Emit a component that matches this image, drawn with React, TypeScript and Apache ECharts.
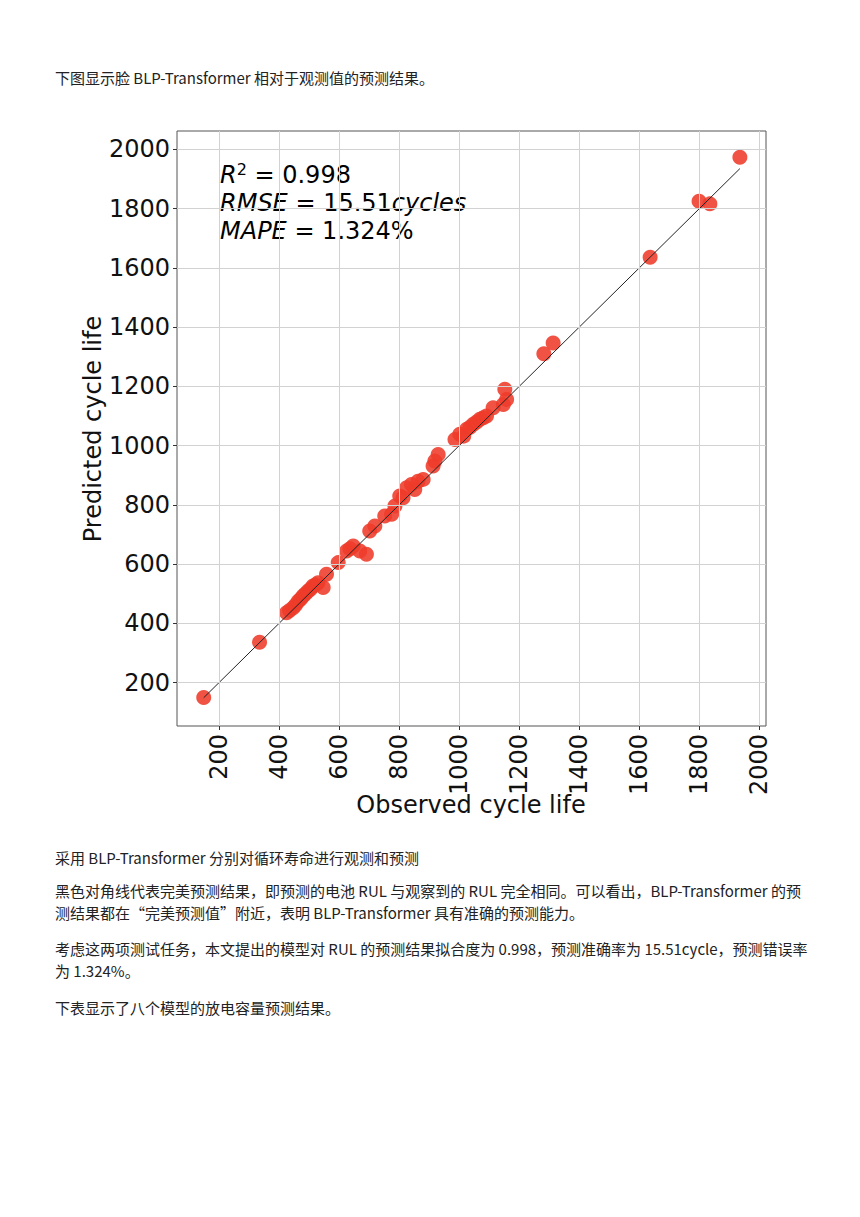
import React, { useEffect, useRef } from "react";
import * as echarts from "echarts";

// Observed vs predicted cycle life
const observed = [
  149, 335, 425, 435, 447, 455, 464, 472, 480, 488, 497, 505, 513, 522, 530, 547, 558,
  597, 625, 636, 647, 669, 691, 702, 719, 752, 775, 786, 802, 813, 825, 841, 852, 863,
  880, 913, 919, 930, 986, 1002, 1015, 1025, 1036, 1047, 1058, 1069, 1080, 1091, 1113,
  1147, 1152, 1158, 1282, 1313, 1636, 1799, 1835, 1935,
];
const predicted = [
  150, 336, 436, 443, 453, 462, 475, 482, 492, 500, 509, 516, 526, 530, 537, 521, 566,
  605, 644, 652, 661, 644, 633, 712, 729, 762, 768, 796, 830, 824, 858, 869, 852, 880,
  886, 931, 948, 970, 1021, 1038, 1032, 1055, 1062, 1072, 1080, 1089, 1094, 1100, 1128,
  1139, 1190, 1156, 1310, 1346, 1636, 1825, 1816, 1973,
];
const tickValues = [200, 400, 600, 800, 1000, 1200, 1400, 1600, 1800, 2000];
const xRange = [60, 2022];
const yRange = [53.5, 2062];

const xTitle = "Observed cycle life";
const yTitle = "Predicted cycle life";
const statR2 = "0.998";
const statRMSE = "15.51";
const statMAPE = "1.324%";

const introLine = "下图显示脸 BLP-Transformer 相对于观测值的预测结果。";
const bodyLines = [
  "采用 BLP-Transformer 分别对循环寿命进行观测和预测",
  "黑色对角线代表完美预测结果，即预测的电池 RUL 与观察到的 RUL 完全相同。可以看出，BLP-Transformer 的预",
  "测结果都在“完美预测值”附近，表明 BLP-Transformer 具有准确的预测能力。",
  "考虑这两项测试任务，本文提出的模型对 RUL 的预测结果拟合度为 0.998，预测准确率为 15.51cycle，预测错误率",
  "为 1.324%。",
  "下表显示了八个模型的放电容量预测结果。",
];
const bodyLineY = [857, 890, 912, 948, 970, 1007];

const PLOT_FONT = '"DejaVu Sans", sans-serif';
const BODY_FONT = '"Noto Sans CJK SC", "Noto Sans", sans-serif';

export default function App() {
  const ref = useRef<HTMLDivElement>(null);

  useEffect(() => {
    if (!ref.current) return;
    const chart = echarts.init(ref.current, null, { renderer: "svg" });

    const points = observed.map((o, i) => [o, predicted[i]]);
    const lo = Math.min(...observed);
    const hi = Math.max(...observed);

    const bodyText = (text: string, y: number) => ({
      type: "text",
      x: 55,
      y,
      style: {
        text,
        fill: "#222",
        font: `15px ${BODY_FONT}`,
        verticalAlign: "middle",
        align: "left",
      },
    });

    const statRich = {
      i: { fontFamily: PLOT_FONT, fontStyle: "italic", fontSize: 24, color: "#111" },
      n: { fontFamily: PLOT_FONT, fontSize: 24, color: "#111" },
      s: { fontFamily: PLOT_FONT, fontSize: 16, color: "#111", verticalAlign: "top" },
    };

    const plainLabel = (v: number) => String(v);

    const option: any = {
      animation: false,
      backgroundColor: "#fff",
      grid: {
        left: 177,
        top: 131,
        width: 589,
        height: 595,
        show: true,
        borderColor: "#555",
        borderWidth: 1,
        backgroundColor: "transparent",
      },
      xAxis: {
        type: "value",
        min: xRange[0],
        max: xRange[1],
        axisLine: { show: false },
        splitLine: { show: false },
        axisTick: {
          show: true,
          customValues: tickValues,
          length: 4,
          lineStyle: { color: "#333" },
        },
        axisLabel: {
          customValues: tickValues,
          formatter: plainLabel,
          rotate: 90,
          margin: 8,
          fontSize: 24,
          fontFamily: PLOT_FONT,
          color: "#111",
        },
      },
      yAxis: {
        type: "value",
        min: yRange[0],
        max: yRange[1],
        axisLine: { show: false },
        splitLine: { show: false },
        axisTick: {
          show: true,
          customValues: tickValues,
          length: 4,
          lineStyle: { color: "#333" },
        },
        axisLabel: {
          customValues: tickValues,
          formatter: plainLabel,
          margin: 7,
          fontSize: 24,
          fontFamily: PLOT_FONT,
          color: "#111",
        },
      },
      series: [
        {
          type: "line",
          data: [],
          z: 1,
          silent: true,
          markLine: {
            silent: true,
            symbol: ["none", "none"],
            label: { show: false },
            emphasis: { disabled: true },
            lineStyle: { color: "#d2d2d2", width: 1, type: "solid" },
            data: [
              ...tickValues.map((v) => ({ xAxis: v })),
              ...tickValues.map((v) => ({ yAxis: v })),
            ],
          },
        },
        {
          type: "scatter",
          data: points,
          z: 2,
          symbolSize: 15,
          itemStyle: { color: "#EE3B2A", opacity: 0.88 },
          emphasis: { disabled: true },
        },
        {
          type: "line",
          data: [
            [lo, lo],
            [hi, hi],
          ],
          z: 3,
          symbol: "none",
          lineStyle: { color: "#222", width: 1 },
          emphasis: { disabled: true },
        },
      ],
      graphic: [
        bodyText(introLine, 77),
        ...bodyLines.map((t, i) => bodyText(t, bodyLineY[i])),
        {
          type: "text",
          x: 220,
          y: 175,
          style: {
            text: `{i|R}{s|2}{n| = ${statR2}}`,
            rich: statRich,
            verticalAlign: "middle",
            lineHeight: 28,
          },
        },
        {
          type: "text",
          x: 220,
          y: 203,
          style: {
            text: `{i|RMSE}{n| = ${statRMSE}}{i|cycles}`,
            rich: statRich,
            verticalAlign: "middle",
          },
        },
        {
          type: "text",
          x: 220,
          y: 231,
          style: {
            text: `{i|MAPE}{n| = ${statMAPE}}`,
            rich: statRich,
            verticalAlign: "middle",
          },
        },
        {
          type: "text",
          x: 471,
          y: 805,
          style: {
            text: xTitle,
            font: `24px ${PLOT_FONT}`,
            fill: "#111",
            align: "center",
            verticalAlign: "middle",
          },
        },
        {
          type: "text",
          x: 93,
          y: 429,
          rotation: Math.PI / 2,
          style: {
            text: yTitle,
            font: `24px ${PLOT_FONT}`,
            fill: "#111",
            align: "center",
            verticalAlign: "middle",
          },
        },
      ],
    };

    chart.setOption(option);
    return () => chart.dispose();
  }, []);

  return (
    <div
      ref={ref}
      style={{ position: "absolute", left: 0, top: 0, width: 860, height: 1217, background: "#fff" }}
    />
  );
}
